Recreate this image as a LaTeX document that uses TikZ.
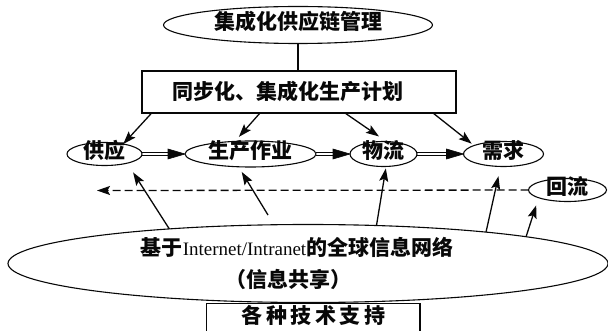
\documentclass[tikz,border=0pt]{standalone}
\usepackage{fontspec}
\setmainfont{Liberation Serif}
\newfontfamily\cjk{Noto Sans CJK SC}
\usetikzlibrary{arrows.meta,calc,shapes.geometric}
\definecolor{ink}{RGB}{8,8,8}
\begin{document}
\begin{tikzpicture}[x=1pt,y=-1pt, color=ink,
  lbl/.style={font={\cjk\bfseries\fontsize{21}{32}\selectfont}},
  oval/.style={ellipse, draw=ink, line width=1.1pt, inner sep=0pt, outer sep=0pt, lbl, text height=9pt, text depth=-7pt},
  box/.style={rectangle, draw=ink, line width=1.4pt, inner sep=0pt, outer sep=0pt, lbl},
  arr/.style={draw=ink, line width=1.3pt, -{Stealth[length=13pt,width=9pt,inset=2.5pt,fill=ink]}},
  dl/.style={draw=ink, line width=1.2pt, shorten >=14pt},
  dlup/.style={dl, transform canvas={yshift=1.5pt}},
  dldn/.style={dl, transform canvas={yshift=-1.5pt}},
  dbltip/.style={fill=ink, draw=ink, line width=0.6pt, line join=miter},
  fbarr/.style={draw=ink, line width=1.3pt, dash pattern=on 8pt off 4pt, -{Stealth[length=13pt,width=9pt,inset=2.5pt,fill=ink]}}]
\useasboundingbox (0,0) rectangle (608,331);
\clip (0,0) rectangle (608,331);

% nodes
\node[oval, minimum width=269pt, minimum height=37pt] (top) at (298,25) {集成化供应链管理};
\node[box, minimum width=314pt, minimum height=42pt] (plan) at (299,92)
  {\hspace*{-11pt}\raisebox{-3pt}{同步化、集成化生产计划}\hspace*{11pt}};
\node[oval, minimum width=75pt, minimum height=23pt] (gy) at (104.5,154) {供应};
\node[oval, minimum width=131pt, minimum height=26pt] (sc) at (250.5,154) {生产作业};
\node[oval, minimum width=67pt, minimum height=25pt] (wl) at (383.5,154) {物流};
\node[oval, minimum width=80pt, minimum height=25pt] (xq) at (503.5,154) {需求};
\node[oval, minimum width=78pt, minimum height=23pt] (hl) at (567.5,190) {回流};
\node[ellipse, draw=ink, line width=1.1pt, inner sep=0pt, outer sep=0pt, lbl, align=center,
      minimum width=600pt, minimum height=78pt] (net) at (308,263.5)
  {\hspace*{-22pt}基于{\mdseries\rmfamily\fontsize{19}{32}\selectfont Internet/Intranet}的全球信息网络\\
   \hspace*{-39pt}（信息共享）};
\node[box, anchor=north, minimum width=213.3pt, text height=20.5pt, text depth=30pt] (tech) at (313.35,303.3)
  {各\kern3.5pt 种\kern3.5pt 技\kern3.5pt 术\kern3.5pt 支\kern3.5pt 持};

\coordinate (fb) at (97,190.5);
\coordinate (u2) at (268,215);

% top link
\draw[draw=ink, line width=1.2pt] (top.south) -- (top.south |- plan.north);

% plan to flows
\draw[arr] ($(plan.south west)+(9.7,0)$) -- (gy.28);
\draw[arr, shorten >=6pt] ($(plan.south west)+(118,0)$) -- (sc.141);
\draw[arr, shorten >=9pt] ($(plan.south west)+(203,0)$) -- (wl.77);
\draw[arr, shorten >=3pt] ($(plan.south west)+(291,0)$) -- (xq.164);

% double arrows
\draw[dlup] (gy) -- (sc);
\draw[dldn] (gy) -- (sc);
\filldraw[dbltip] (sc.west) -- ++(-17,-5) -- ++(0,10) -- cycle;
\draw[dlup] (sc) -- (wl);
\draw[dldn] (sc) -- (wl);
\filldraw[dbltip] (wl.west) -- ++(-17,-5) -- ++(0,10) -- cycle;
\draw[dlup] (wl) -- (xq);
\draw[dldn] (wl) -- (xq);
\filldraw[dbltip] (xq.west) -- ++(-17,-5) -- ++(0,10) -- cycle;

% feedback
\draw[fbarr] (hl) -- (fb);

% up arrows
\draw[arr, shorten >=11pt] (net.166) -- (gy.-22);
\draw[arr, shorten >=6pt] (u2) -- (sc.-133);
\draw[arr, shorten >=2pt] (net.29) -- (wl.-78);
\draw[arr, shorten >=10pt] (net.10.8) -- (xq.-103);
\draw[arr, shorten >=8pt] (net.7.4) -- (hl.-165);
\end{tikzpicture}
\end{document}
